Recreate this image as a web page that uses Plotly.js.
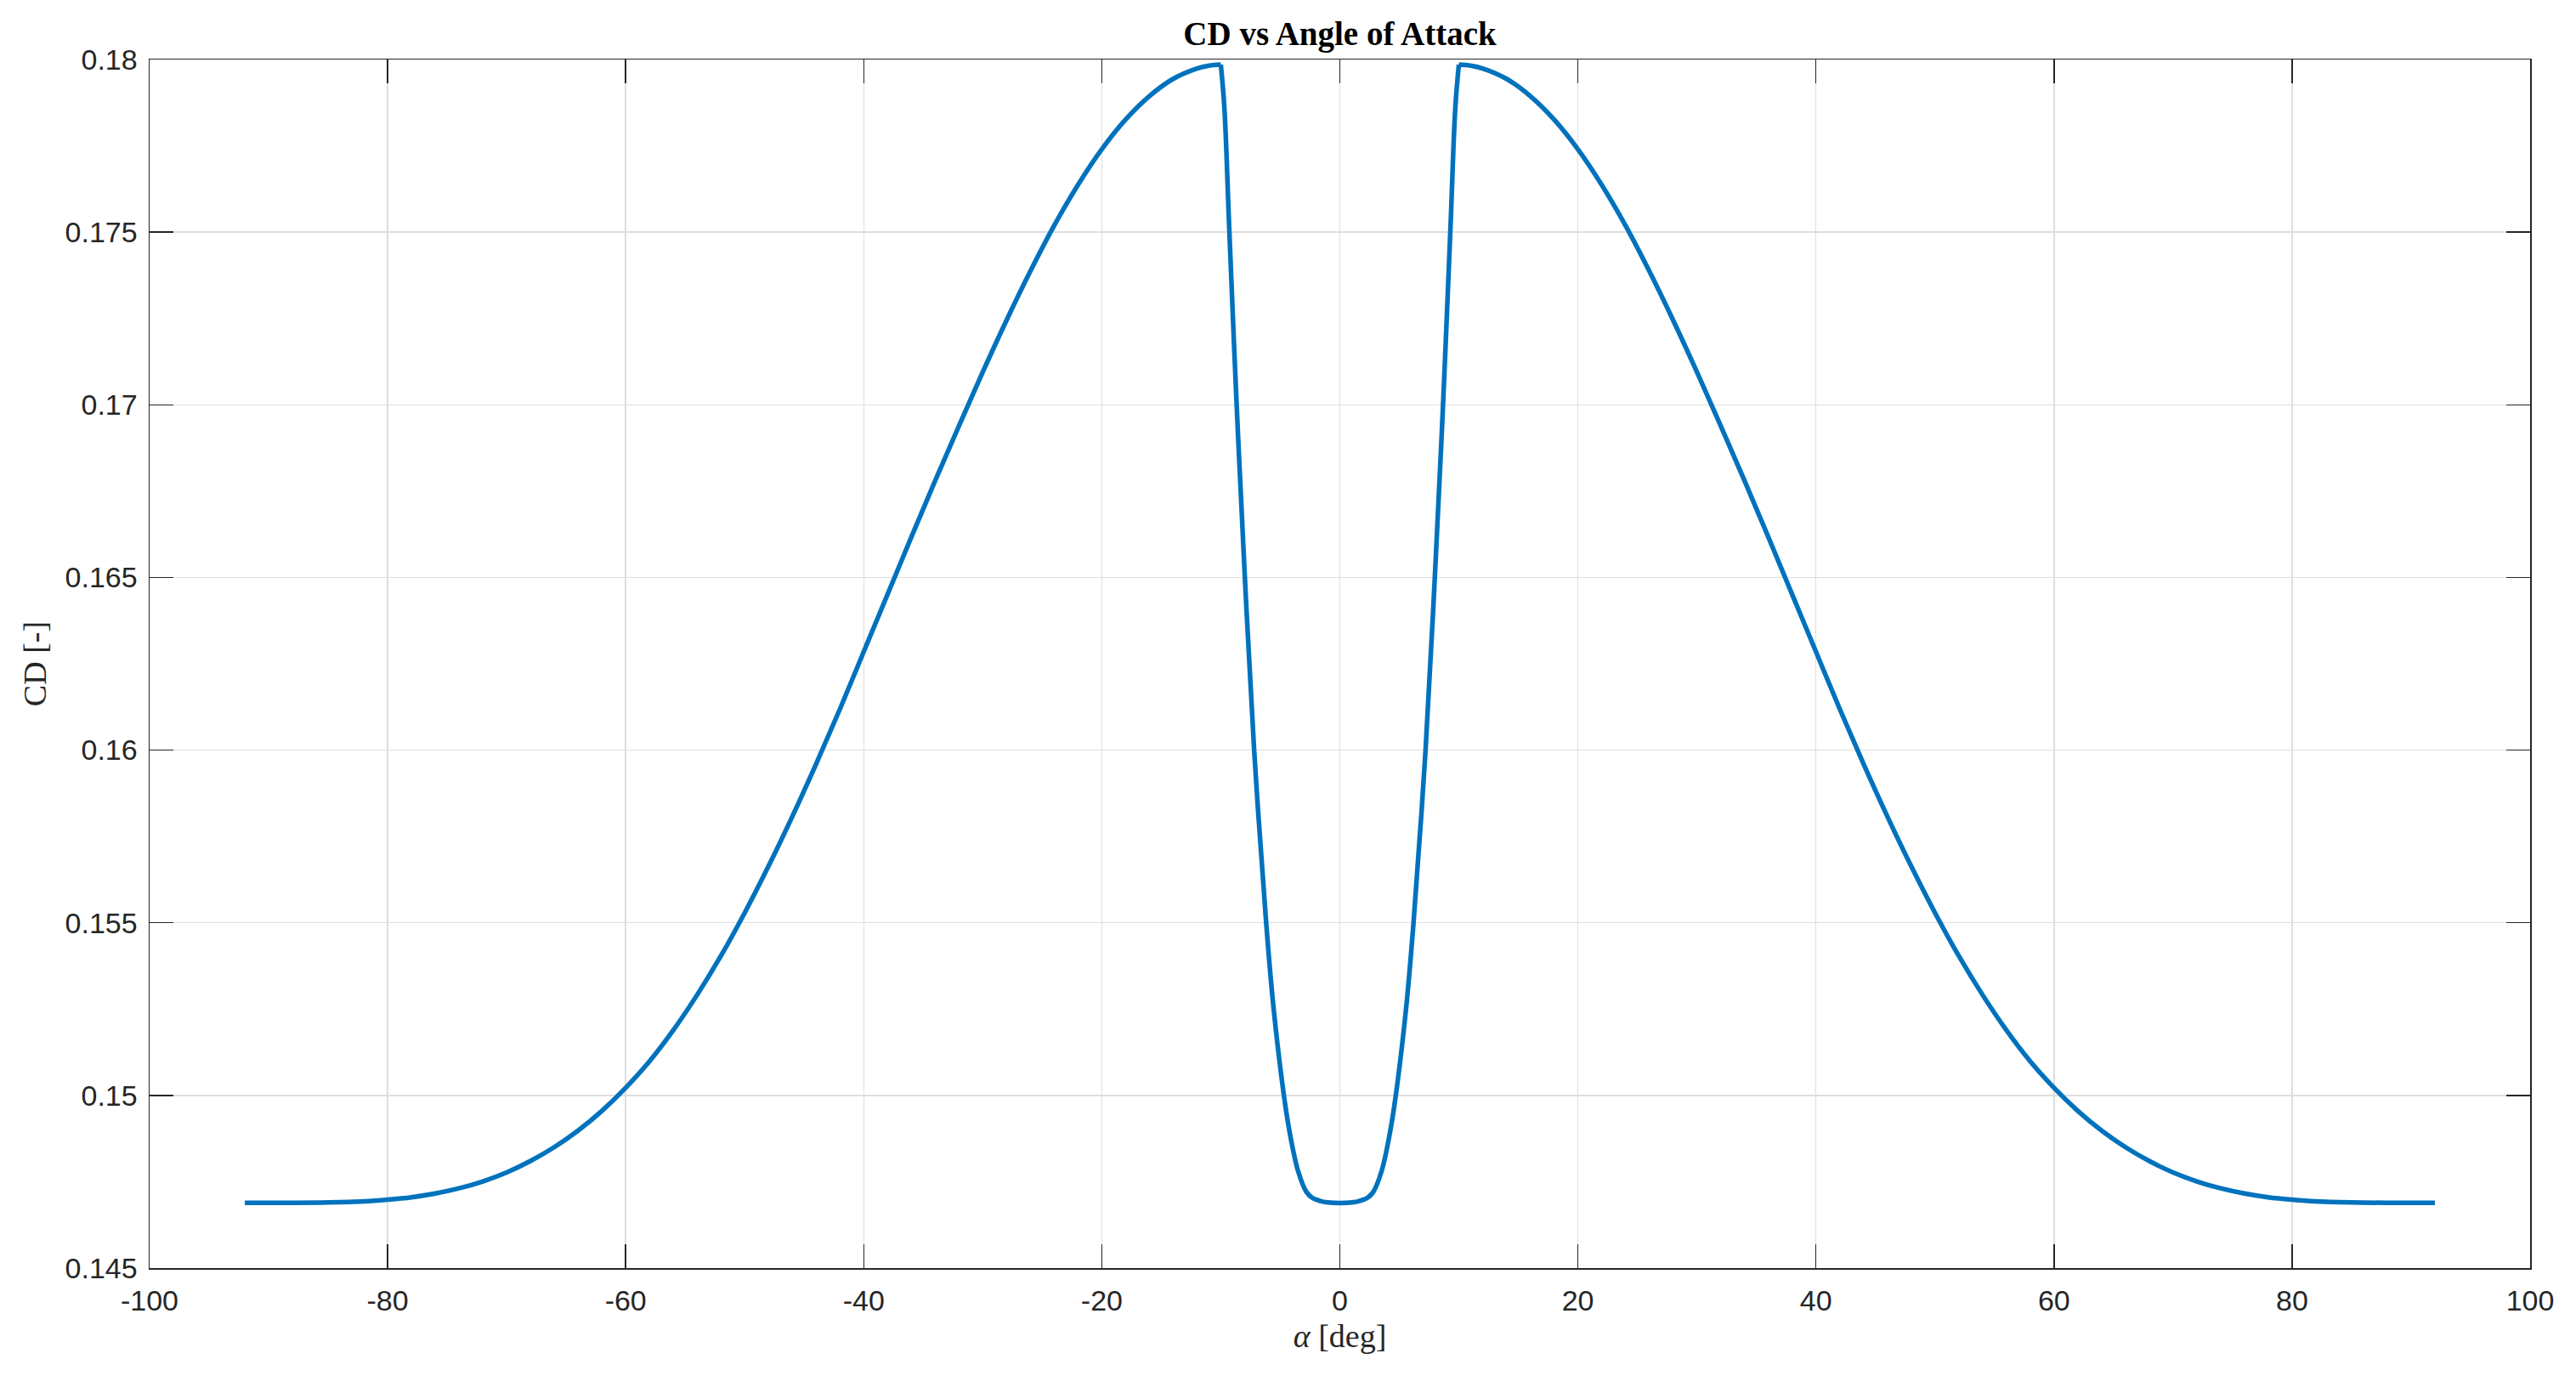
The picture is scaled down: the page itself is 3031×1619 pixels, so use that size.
<!DOCTYPE html>
<html>
<head>
<meta charset="utf-8">
<script src="https://cdn.plot.ly/plotly-3.0.1.min.js"></script>
<style>
  html, body { margin: 0; padding: 0; background: #ffffff; }
  #chart { width: 3031px; height: 1619px; }
</style>
</head>
<body>
<div id="chart"></div>
<script>
// Angle of attack [deg] and CD [-].
// Outer branch, negative angles (from -92 deg up to the corner at -10 deg)
const alphaLeft = [
  -92, -88, -85, -82, -80, -78, -76, -74, -72, -70, -68, -66, -64, -62, -60,
  -58, -56, -54, -52, -50, -48, -46, -44, -42, -40, -38, -36, -34, -32, -30,
  -28, -26, -24, -22, -20, -18, -16, -14, -12, -11, -10
];
const cdLeft = [
  0.14689, 0.14689, 0.14690, 0.14693, 0.14698, 0.14705, 0.14716, 0.14731, 0.14751, 0.14777, 0.14810, 0.14850, 0.14898, 0.14955, 0.15022,
  0.15099, 0.15189, 0.15291, 0.15404, 0.15529, 0.15664, 0.15808, 0.15960, 0.16119, 0.16285, 0.16451, 0.16617, 0.16780, 0.16939, 0.17095,
  0.17245, 0.17387, 0.17519, 0.17637, 0.17740, 0.17826, 0.17894, 0.17944, 0.17974, 0.17982, 0.17985
];

// Inner branch (from -10 deg through 0 to +10 deg)
const alphaInner = [
  -10, -9.7, -9.28, -8.67, -7.98, -7.2, -6.19, -5.56, -4.7, -4.2, -3.5, -2.8, -2.3, -1.7, -1, 0,
  1, 1.7, 2.3, 2.8, 3.5, 4.2, 4.7, 5.56, 6.19, 7.2, 7.98, 8.67, 9.28, 9.7, 10
];
const cdInner = [
  0.17985, 0.17860, 0.17500, 0.17000, 0.16500, 0.16000, 0.15500, 0.15250, 0.15000, 0.14890, 0.14780, 0.14720, 0.14703, 0.14695, 0.14690, 0.14688,
  0.14690, 0.14695, 0.14703, 0.14720, 0.14780, 0.14890, 0.15000, 0.15250, 0.15500, 0.16000, 0.16500, 0.17000, 0.17500, 0.17860, 0.17985
];

// Outer branch, positive angles (from the corner at +10 deg up to 92 deg)
const alphaRight = [
  10, 11, 12, 14, 16, 18, 20, 22, 24, 26, 28, 30, 32, 34, 36, 38, 40,
  42, 44, 46, 48, 50, 52, 54, 56, 58, 60, 62, 64, 66, 68, 70,
  72, 74, 76, 78, 80, 82, 85, 88, 92
];
const cdRight = [
  0.17985, 0.17982, 0.17974, 0.17944, 0.17894, 0.17826, 0.17740, 0.17637, 0.17519, 0.17387, 0.17245, 0.17095, 0.16939, 0.16780, 0.16617, 0.16451, 0.16285,
  0.16119, 0.15960, 0.15808, 0.15664, 0.15529, 0.15404, 0.15291, 0.15189, 0.15099, 0.15022, 0.14955, 0.14898, 0.14850, 0.14810, 0.14777,
  0.14751, 0.14731, 0.14716, 0.14705, 0.14698, 0.14693, 0.14690, 0.14689, 0.14689
];

// Tick positions and labels
const xTickVals = [-100, -80, -60, -40, -20, 0, 20, 40, 60, 80, 100];
const xTickText = ['-100', '-80', '-60', '-40', '-20', '0', '20', '40', '60', '80', '100'];
const yTickVals = [0.145, 0.15, 0.155, 0.16, 0.165, 0.17, 0.175, 0.18];
const yTickText = ['0.145', '0.15', '0.155', '0.16', '0.165', '0.17', '0.175', '0.18'];

const chartTitle = 'CD vs Angle of Attack';
const xLabel = '<i>α</i> [deg]';
const yLabel = 'CD [-]';

const axisColor = '#262626';
const gridColor = '#dedede';
const lineColor = '#0072BD';
const tickFont = { family: 'Liberation Sans, Arial, sans-serif', size: 34, color: axisColor };
const labelFont = { family: 'Liberation Serif, Times New Roman, serif', size: 38, color: axisColor };

function branch(xs, ys) {
  return {
    x: xs,
    y: ys,
    type: 'scatter',
    mode: 'lines',
    line: { color: lineColor, width: 5.5, shape: 'spline', smoothing: 1 },
    hoverinfo: 'skip',
    showlegend: false
  };
}

const traces = [
  branch(alphaLeft, cdLeft),
  branch(alphaInner, cdInner),
  branch(alphaRight, cdRight)
];

const commonAxis = {
  showline: true,
  linecolor: axisColor,
  linewidth: 1.5,
  mirror: 'allticks',
  ticks: 'inside',
  ticklen: 28,
  tickwidth: 1.5,
  tickcolor: axisColor,
  showgrid: true,
  gridcolor: gridColor,
  gridwidth: 1.5,
  zeroline: false,
  tickfont: tickFont,
  tickmode: 'array'
};

const layout = {
  width: 3031,
  height: 1619,
  paper_bgcolor: '#ffffff',
  plot_bgcolor: '#ffffff',
  margin: { l: 176, r: 54, t: 70, b: 127, pad: 0 },
  title: {
    text: '<b>' + chartTitle + '</b>',
    font: { family: 'Liberation Serif, Times New Roman, serif', size: 39, color: '#000000' },
    x: 0.5,
    xref: 'paper',
    xanchor: 'center',
    y: 1 - 39 / 1619,
    yref: 'container',
    yanchor: 'middle'
  },
  xaxis: Object.assign({}, commonAxis, {
    range: [-100, 100],
    tickvals: xTickVals,
    ticktext: xTickText,
    ticklabelstandoff: 8,
    title: { text: xLabel, font: labelFont, standoff: 10 }
  }),
  yaxis: Object.assign({}, commonAxis, {
    range: [0.145, 0.18],
    tickvals: yTickVals,
    ticktext: yTickText,
    ticklabelstandoff: 6,
    title: { text: yLabel, font: labelFont, standoff: 10 }
  })
};

Plotly.newPlot('chart', traces, layout, { displayModeBar: false, staticPlot: true });
</script>
</body>
</html>
